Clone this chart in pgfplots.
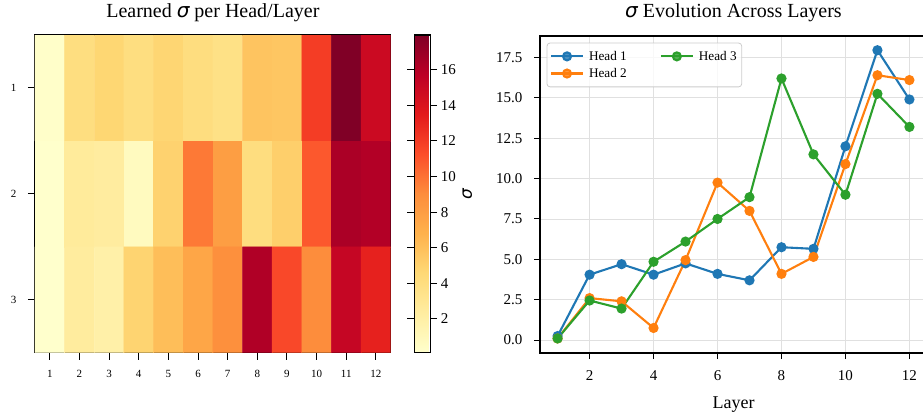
\documentclass[border=0pt]{standalone}
\usepackage{pgfplots}
\pgfplotsset{compat=1.18}
\usepackage{fontspec}
\setmainfont{Liberation Serif}
\newfontfamily\dejavu{DejaVu Sans}
\newcommand{\sig}{{\dejavu\itshape σ}}
\definecolor{c1}{HTML}{1F77B4}
\definecolor{c2}{HTML}{FF7F0E}
\definecolor{c3}{HTML}{2CA02C}
\pgfplotsset{
  colormap={ylorrd}{rgb255=(255,255,204) rgb255=(255,237,160) rgb255=(254,217,118) rgb255=(254,178,76) rgb255=(253,141,60) rgb255=(252,78,42) rgb255=(227,26,28) rgb255=(189,0,38) rgb255=(128,0,38)},
  /pgf/number format/assume math mode=true,
  every axis title/.style={at={(0.5,1)}, anchor=base, yshift=18pt, font=\fontsize{20}{24}\selectfont},
}
\begin{document}
\begin{tikzpicture}
\useasboundingbox (0,0) rectangle (923pt,412pt);
\begin{axis}[
  at={(35pt,59.3pt)}, anchor=south west,
  scale only axis, width=355.7pt, height=317.7pt,
  xmin=0.5, xmax=12.5, ymin=0.5, ymax=3.5, y dir=reverse,
  xtick={1,...,12}, ytick={1,2,3},
  tick align=outside, tick pos=left, major tick length=7pt,
  tick style={black, line width=1pt},
  axis line style={line width=1.25pt},
  ticklabel style={font=\fontsize{11}{13}\selectfont},
  xticklabel shift=7pt, yticklabel shift=8pt,
  colormap name=ylorrd, point meta min=0.1, point meta max=17.95,
  colorbar,
  colorbar style={
    at={(parent axis.north east)}, anchor=north west, xshift=15pt,
    scale only axis, width=16pt, height=317.7pt,
    ytick={2,4,6,8,10,12,14,16},
    tick align=outside, major tick length=7pt,
    tick style={black, line width=1pt},
    axis line style={line width=1.25pt},
    yticklabel style={font=\fontsize{15}{17}\selectfont},
    yticklabel shift=0pt,
    /pgf/number format/assume math mode=true,
    ylabel={\sig}, ylabel style={font=\fontsize{17}{19}\selectfont},
  },
  title={Learned \sig\ per Head/Layer},
]
\addplot[matrix plot*, mesh/cols=12, point meta=explicit] table[meta=c] {
x y c
1 1 0.25
2 1 4.05
3 1 4.7
4 1 4.05
5 1 4.75
6 1 4.1
7 1 3.7
8 1 5.75
9 1 5.65
10 1 12.0
11 1 17.95
12 1 14.9
1 2 0.1
2 2 2.6
3 2 2.4
4 2 0.75
5 2 4.95
6 2 9.75
7 2 8.0
8 2 4.1
9 2 5.15
10 2 10.9
11 2 16.4
12 2 16.1
1 3 0.1
2 3 2.45
3 3 1.95
4 3 4.85
5 3 6.1
6 3 7.5
7 3 8.85
8 3 16.2
9 3 11.5
10 3 9.0
11 3 15.25
12 3 13.2
};
\end{axis}
\begin{axis}[
  at={(540pt,59pt)}, anchor=south west,
  scale only axis, width=387pt, height=317pt,
  xmin=0.45, xmax=12.55, ymin=-0.8, ymax=18.83,
  xtick={2,4,6,8,10,12}, ytick={0,2.5,5,7.5,10,12.5,15,17.5},
  yticklabel style={/pgf/number format/.cd, fixed, fixed zerofill, precision=1},
  grid=major, grid style={line width=0.8pt, black!12},
  tick align=outside, tick pos=left, major tick length=6pt,
  tick style={black, line width=1pt},
  axis line style={line width=1.25pt},
  ticklabel style={font=\fontsize{15}{17}\selectfont},
  xticklabel shift=8pt, yticklabel shift=8pt,
  xlabel={Layer}, xlabel style={font=\fontsize{18}{21}\selectfont, yshift=-9pt},
  title={\sig\ Evolution Across Layers},
  legend columns=2, transpose legend, legend cell align=left,
  legend style={at={(0.017,0.979)}, anchor=north west, draw=black!20, line width=0.8pt,
    rounded corners=3pt, fill=white, fill opacity=0.8, text opacity=1,
    font=\fontsize{13.2}{15}\selectfont, row sep=2.5pt, inner ysep=6pt,
    /tikz/every even column/.append style={column sep=31pt},
    /tikz/every odd column/.append style={column sep=3pt}},
  legend image code/.code={\draw[mark repeat=2,mark phase=2,#1] plot coordinates {(0pt,0pt) (16pt,0pt) (32pt,0pt)};},
]
\addplot[c1, line width=2.1pt, mark=*, mark size=4pt, mark options={solid}] coordinates {
(1,0.25) (2,4.05) (3,4.7) (4,4.05) (5,4.75) (6,4.1) (7,3.7) (8,5.75) (9,5.65) (10,12.0) (11,17.95) (12,14.9)};
\addlegendentry{Head 1}
\addplot[c2, line width=2.1pt, mark=*, mark size=4pt, mark options={solid}] coordinates {
(1,0.1) (2,2.6) (3,2.4) (4,0.75) (5,4.95) (6,9.75) (7,8.0) (8,4.1) (9,5.15) (10,10.9) (11,16.4) (12,16.1)};
\addlegendentry{Head 2}
\addplot[c3, line width=2.1pt, mark=*, mark size=4pt, mark options={solid}] coordinates {
(1,0.1) (2,2.45) (3,1.95) (4,4.85) (5,6.1) (6,7.5) (7,8.85) (8,16.2) (9,11.5) (10,9.0) (11,15.25) (12,13.2)};
\addlegendentry{Head 3}
\end{axis}
\end{tikzpicture}
\end{document}
